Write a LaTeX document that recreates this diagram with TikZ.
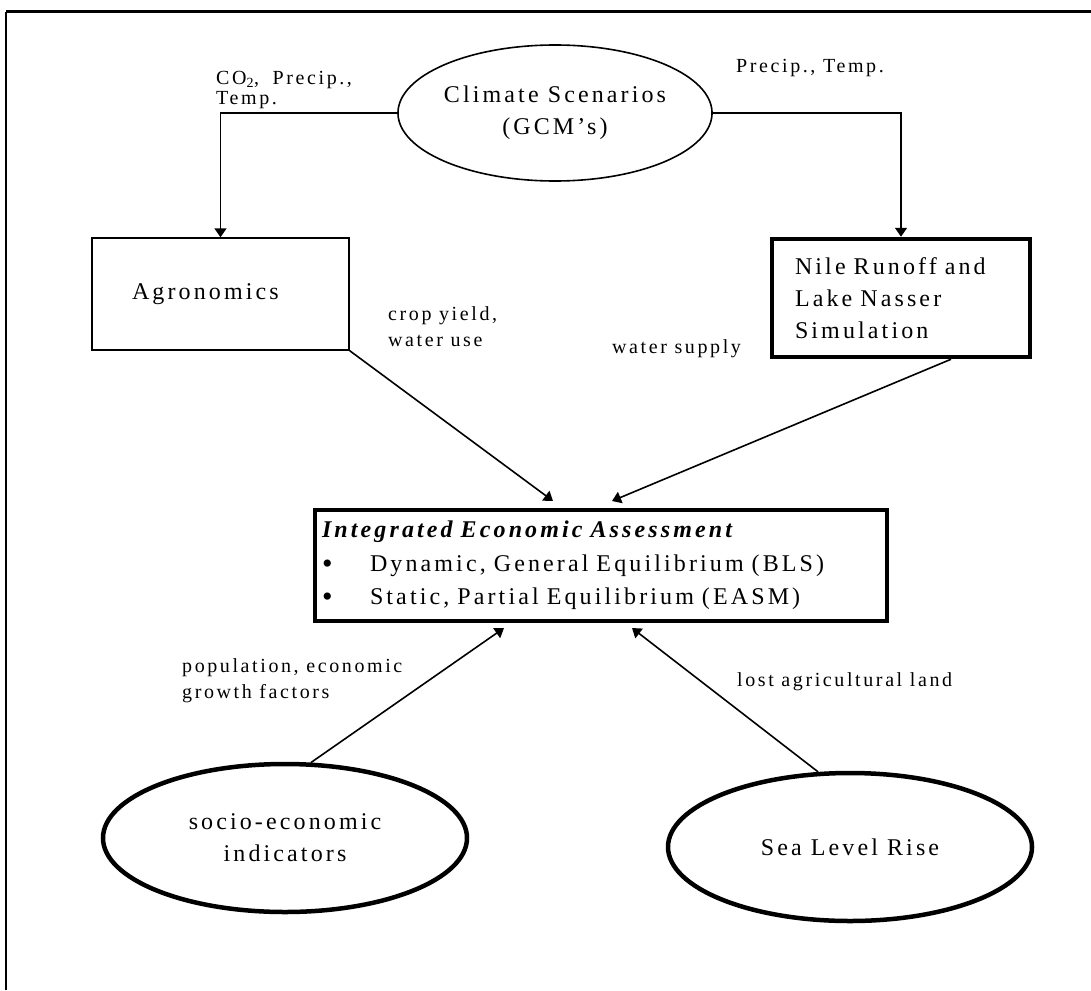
\documentclass[tikz,border=0pt]{standalone}
\usepackage{fontspec}
\setmainfont{Liberation Serif}[LetterSpace=13]
\usetikzlibrary{shapes.geometric,arrows.meta,calc}
\newcommand{\bigbul}{\makebox[48pt][l]{\raisebox{-2pt}{\fontsize{30}{30}\selectfont\textbullet}}}
\begin{document}
\begin{tikzpicture}[x=1pt,y=-1pt,
  btext/.style={font=\fontsize{24}{32}\selectfont},
  lbl/.style={font=\fontsize{20}{26}\selectfont, anchor=base west, inner sep=0},
  arr/.style={-{Triangle[length=9pt,width=12pt]}, line width=1.6pt},
  thinbox/.style={draw, line width=1.4pt, inner ysep=0, btext, align=left},
  thickbox/.style={draw, line width=4.5pt, inner ysep=0, btext, align=left},
  oval/.style={ellipse, draw, inner sep=0, btext, align=center}
]
\useasboundingbox (0,0) rectangle (1091,990);
% frame
\draw[line width=3pt] (6,12) -- (1091,12);
\draw[line width=1.5pt] (6,12) -- (6,990);

\node[oval, line width=1.6pt, minimum width=280pt, minimum height=136pt] (clim) at (555,113) {Climate Scenarios\\(GCM's)};

\node[thinbox, minimum width=257pt, minimum height=112pt, text width=177pt, inner xsep=40pt] (agro) at (220.5,294) {Agronomics};

\node[thickbox, minimum width=258pt, minimum height=118pt, text width=212pt, inner xsep=23pt] (nile) at (901,298) {Nile Runoff and\\Lake Nasser\\Simulation};

\node[thickbox, minimum width=572pt, minimum height=111pt, text width=558pt, inner xsep=7pt, font=\fontsize{24}{33.5}\selectfont] (integ) at (601,565.5)
  {{\bfseries\itshape Integrated Economic Assessment}\\
   \bigbul Dynamic, General Equilibrium (BLS)\\
   \bigbul Static, Partial Equilibrium (EASM)};

\node[oval, line width=4.5pt, minimum width=364pt, minimum height=148pt] (socio) at (285,838) {socio-economic\\indicators};
\node[oval, line width=4.5pt, minimum width=364pt, minimum height=148pt] (sea) at (850,847) {Sea Level Rise};

% arrow tips
\coordinate (t1) at (553,501);
\coordinate (t2) at (612,501);
\coordinate (t3) at (504,628);
\coordinate (t4) at (632,628);

\draw[arr] (clim.west) -| (agro.north);
\draw[arr] (clim.east) -| (nile.north);
\draw[arr] (agro.south east) -- (t1);
\draw[arr] ($(nile.south)+(50,0)$) -- (t2);
\draw[arr] (socio.71) -- (t3);
\draw[arr] (sea.113) -- (t4);

% labels
\node[lbl] (la) at (216,84) {CO\textsubscript{2},\hspace{6pt} Precip.,};
\node[lbl] (lb) at (216,104) {Temp.};
\node[lbl] (lc) at (736,73) {Precip., Temp.};
\node[lbl] (ld) at (388,320) {crop yield,};
\node[lbl] (le) at (388,346) {water use};
\node[lbl] (lf) at (612,353) {water supply};
\node[lbl] (lg) at (182,672) {population, economic};
\node[lbl] (lh) at (182,698) {growth factors};
\node[lbl] (li) at (737,686) {lost agricultural land};
\end{tikzpicture}
\end{document}
